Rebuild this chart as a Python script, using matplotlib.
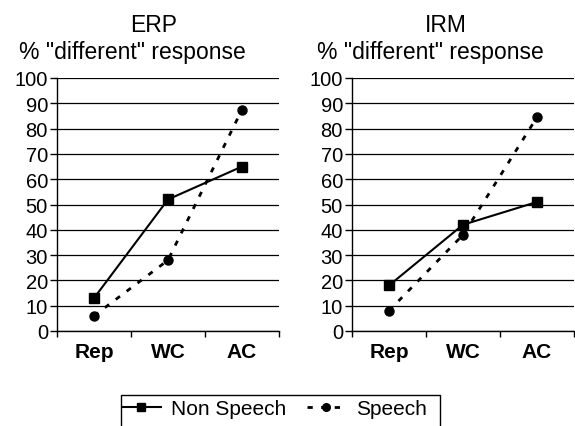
import numpy as np
import matplotlib.pyplot as plt
from matplotlib.lines import Line2D
from matplotlib.patches import Rectangle

plt.rcParams['font.family'] = ['Liberation Sans', 'DejaVu Sans']

categories = ['Rep', 'WC', 'AC']
erp_non_speech = [13, 52, 65]
erp_speech = [6, 28, 87.5]
irm_non_speech = [18, 42, 51]
irm_speech = [8, 38, 84.5]
panel_titles = ['ERP', 'IRM']
ylabel = '% "different" response'
series_names = ['Non Speech', 'Speech']

W, H = 575, 427
fig = plt.figure(figsize=(W/100, H/100), dpi=100)
ax1 = fig.add_axes([57/W, 1-332/H, (279-57)/W, (332-79)/H])
ax2 = fig.add_axes([352/W, 1-332/H, (574-352)/W, (332-79)/H])

x = np.arange(len(categories))
dash = (0, (1.9, 3.0))

for ax, ns, sp in [(ax1, erp_non_speech, erp_speech), (ax2, irm_non_speech, irm_speech)]:
    ax.plot(x, ns, color='black', lw=1.5, marker='s', ms=7, zorder=3)
    ax.plot(x, sp, color='black', lw=2, ls=dash, marker='o', ms=6.5, zorder=3)
    ax.set_xlim(-0.5, 2.5)
    ax.set_ylim(0, 100)
    ax.set_yticks(range(0, 101, 10))
    ax.yaxis.grid(True, color='black', lw=0.9)
    ax.set_axisbelow(True)
    ax.set_xticks([-0.5, 0.5, 1.5, 2.5])
    ax.set_xticklabels([])
    ax.set_xticks(x, minor=True)
    ax.set_xticklabels(categories, minor=True, fontweight='bold', fontsize=15)
    ax.tick_params(axis='x', which='minor', length=0, pad=8)
    ax.tick_params(axis='x', which='major', length=4.5, width=1, direction='out')
    ax.tick_params(axis='y', length=5, width=1, labelsize=14.5, pad=1.5)
    for s in ['top', 'right']:
        ax.spines[s].set_visible(False)
    for s in ['left', 'bottom']:
        ax.spines[s].set_linewidth(1)

fig.text(154/W, 1-25/H, panel_titles[0], ha='center', va='center', fontsize=16.5)
fig.text(132/W, 1-53/H, ylabel, ha='center', va='center', fontsize=16.5)
fig.text(446/W, 1-25/H, panel_titles[1], ha='center', va='center', fontsize=16.5)
fig.text(430/W, 1-53/H, ylabel, ha='center', va='center', fontsize=16.5)

# legend box runs past the bottom edge in the original
fig.patches.append(Rectangle((121/W, -0.05), (440-121)/W, 1-396/H+0.05,
                             transform=fig.transFigure, fill=False,
                             edgecolor='black', lw=1))
handles = [
    Line2D([], [], color='black', lw=1.5, marker='s', ms=6),
    Line2D([], [], color='black', lw=2, ls=(0, (1.9, 3.0)), marker='o', ms=5.5),
]
fig.legend(handles, series_names, loc='center left',
           bbox_to_anchor=(122/W, 1-410/H), ncol=2, fontsize=15,
           frameon=False, handlelength=1.85, handletextpad=0.5,
           columnspacing=1.0, borderpad=0, borderaxespad=0)

fig.savefig('out.png', dpi=100)
